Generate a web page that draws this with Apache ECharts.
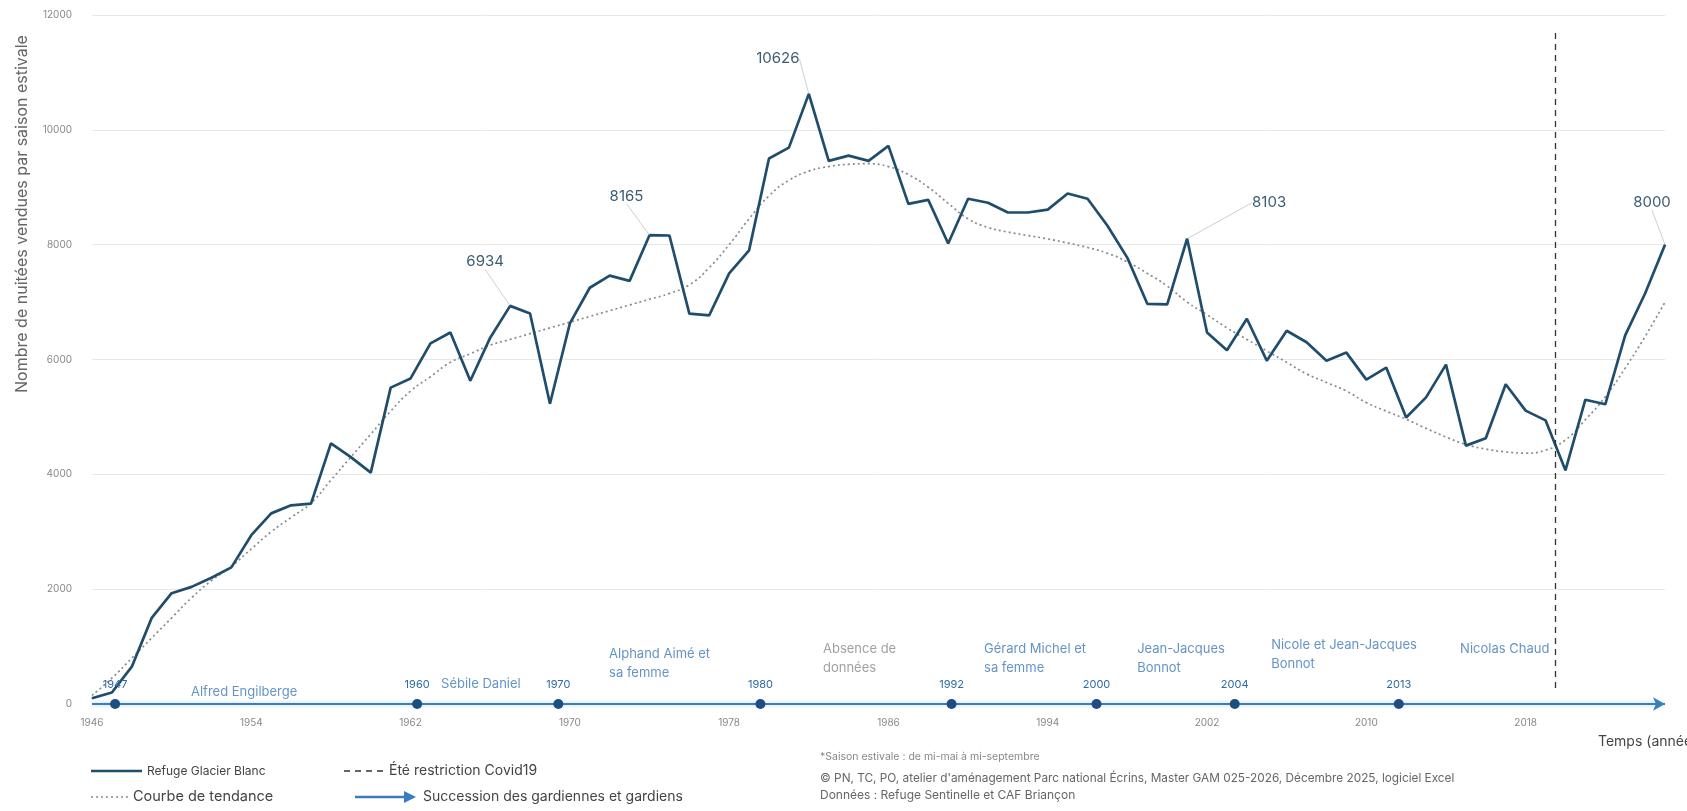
<!DOCTYPE html>
<html><head><meta charset="utf-8">
<script src="https://cdn.jsdelivr.net/npm/echarts@6/dist/echarts.min.js"></script>
<style>html,body{margin:0;padding:0;background:#fff}#c{width:1687px;height:811px}</style>
</head><body><div id="c"></div><script>
// ---------- DATA ----------
const years = [1946,1947,1948,1949,1950,1951,1952,1953,1954,1955,1956,1957,1958,1959,1960,1961,1962,1963,1964,1965,
1966,1967,1968,1969,1970,1971,1972,1973,1974,1975,1976,1977,1978,1979,1980,1981,1982,1983,1984,1985,
1986,1987,1988,1989,1990,1991,1992,1993,1994,1995,1996,1997,1998,1999,2000,2001,2002,2003,2004,2005,
2006,2007,2008,2009,2010,2011,2012,2013,2014,2015,2016,2017,2018,2019,2020,2021,2022,2023,2024,2025];
const nuitees = [100,200,650,1500,1930,2040,2200,2380,2940,3320,3460,3490,4540,4300,4030,5510,5670,6280,6470,5630,
6380,6934,6800,5230,6630,7250,7460,7370,8165,8160,6800,6770,7500,7900,9500,9690,10626,9460,9550,9460,
9720,8710,8780,8020,8800,8730,8560,8560,8610,8890,8800,8330,7770,6970,6960,8103,6470,6160,6710,5980,
6500,6300,5980,6120,5650,5860,4990,5340,5910,4500,4630,5570,5110,4940,4070,5300,5220,6420,7150,8000];
const tendance = [150,450,800,1150,1500,1850,2150,2400,2700,3000,3250,3500,3900,4300,4700,5100,5450,5700,5950,6100,
6250,6350,6450,6550,6650,6750,6850,6950,7050,7150,7300,7600,8000,8450,8850,9120,9280,9360,9400,9410,
9360,9220,9000,8720,8450,8300,8220,8160,8100,8030,7950,7850,7700,7500,7280,7000,6780,6550,6350,6150,
5950,5750,5600,5450,5250,5100,4960,4800,4650,4520,4440,4390,4370,4420,4600,4950,5350,5850,6400,7000];
const axisYearLabels = [1946,1954,1962,1970,1978,1986,1994,2002,2010,2018];
const yTicks = [0,2000,4000,6000,8000,10000,12000];
const labelledYears = [1967,1974,1982,2001,2025];
const covidYear = 2019.5;
const gardienYears = ['1947','1960','1970','1980','1992','2000','2004','2013'];
const gardienNames = ['Alfred Engilberge','Sébile Daniel','Alphand Aimé et\nsa femme','Absence de\ndonnées',
  'Gérard Michel et\nsa femme','Jean-Jacques\nBonnot','Nicole et Jean-Jacques\nBonnot','Nicolas Chaud'];

// ---------- LAYOUT (hand-placed positions of the timeline, in axis units) ----------
const timelineDotAt = [1947.16,1962.33,1969.42,1979.57,1989.17,1996.45,2003.39,2011.63];
const timelineNameAt = [[1950.97,209],[1963.53,348],[1971.97,696],[1982.71,783],[1990.8,783],[1998.49,783],[2005.22,852],[2014.71,957]];
const covidSpan = [280, 11750];
const labelOffsets = {1967:[-25,-31],1974:[-23,-26],1982:[-31,-22],2001:[82,-23],2025:[-13,-29]};

const FONT = 'Inter, "Noto Sans", sans-serif';
const mainColor = '#1f4d6b';
const tlColor = '#3a7cc0';

const mainData = years.map((y,i)=> labelledYears.includes(y)
  ? {value:[y,nuitees[i]], label:{show:true}} : {value:[y,nuitees[i]]});
const trendData = years.map((y,i)=>[y,tendance[i]]);

const chart = echarts.init(document.getElementById('c'), null, {renderer:'canvas'});
chart.setOption({
  animation:false,
  backgroundColor:'#ffffff',
  grid:{left:92,right:22,top:15,bottom:107,containLabel:false},
  xAxis:{type:'value',min:years[0],max:years[years.length-1],
    axisLine:{show:false},axisTick:{show:false},splitLine:{show:false},
    axisLabel:{customValues:axisYearLabels,formatter:v=>String(v),color:'#888',fontSize:10,fontFamily:FONT,margin:14}},
  yAxis:{type:'value',min:yTicks[0],max:yTicks[yTicks.length-1],interval:2000,
    axisLine:{show:false},axisTick:{show:false},
    splitLine:{lineStyle:{color:'#e8e8e8',width:1}},
    axisLabel:{formatter:v=>String(v),color:'#888',fontSize:10,fontFamily:FONT,margin:20}},
  series:[
    {name:'Courbe de tendance',type:'line',data:trendData,smooth:true,symbol:'none',z:2,
      lineStyle:{color:'#868b90',width:1.7,type:[2,3]}},
    {name:'Refuge Glacier Blanc',type:'line',data:mainData,symbol:'circle',symbolSize:1,showAllSymbol:true,z:3,
      itemStyle:{color:mainColor},lineStyle:{color:mainColor,width:2.7},
      label:{show:false,position:'top',distance:5,color:'#3b5c75',fontSize:15,fontFamily:FONT,
        formatter:p=>String(p.value[1])},
      labelLine:{show:true,lineStyle:{color:'#cfcfcf',width:1}},
      labelLayout:function(p){const y=years[p.dataIndex];const o=labelOffsets[y];return o?{dx:o[0],dy:o[1]}:{};},
      markLine:{silent:true,symbol:['none','none'],label:{show:false},
        lineStyle:{color:'#333',type:[6,5],width:1.3},
        data:[[{coord:[covidYear,covidSpan[0]]},{coord:[covidYear,covidSpan[1]]}]]}},
    {name:'timeline',type:'line',data:timelineDotAt.map(x=>[x,0]),z:5,
      symbol:'circle',symbolSize:10,itemStyle:{color:'#1d4f7e'},lineStyle:{width:0},
      label:{show:true,position:'top',distance:9,color:'#2f6aa6',fontSize:11,fontFamily:FONT,
        formatter:p=>gardienYears[p.dataIndex]},
      markLine:{silent:true,symbol:['none','arrow'],symbolSize:[10,12],label:{show:false},
        lineStyle:{color:tlColor,width:2.2,type:'solid',shadowColor:'rgba(120,180,235,0.6)',shadowBlur:4},
        data:[[{coord:[years[0],0]},{coord:[years[years.length-1],0]}]]}},
    {name:'noms',type:'scatter',data:timelineNameAt.map((p,i)=>({value:p,
        label:i===3?{color:'#8a8a8a'}:{}})),symbolSize:0,z:6,
      label:{show:true,position:'right',distance:0,align:'left',color:'#3d78b6',fontSize:13,lineHeight:19,fontFamily:FONT,
        formatter:p=>gardienNames[p.dataIndex]}}
  ],
  graphic:[
    {type:'text',x:22,y:214,rotation:Math.PI/2,style:{text:'Nombre de nuitées vendues par saison estivale',
      align:'center',verticalAlign:'middle',fill:'#666',font:'16px '+FONT}},
    {type:'text',x:1598,y:742,style:{text:'Temps (années)',align:'left',verticalAlign:'middle',fill:'#444',font:'14px '+FONT}},
    {type:'line',shape:{x1:91,y1:771,x2:142,y2:771},style:{stroke:mainColor,lineWidth:2.6}},
    {type:'text',x:147,y:771,style:{text:'Refuge Glacier Blanc',verticalAlign:'middle',fill:'#444',font:'12px '+FONT}},
    {type:'line',shape:{x1:91,y1:797,x2:129,y2:797},style:{stroke:'#868b90',lineWidth:1.7,lineDash:[2,3]}},
    {type:'text',x:133,y:797,style:{text:'Courbe de tendance',verticalAlign:'middle',fill:'#444',font:'14.5px '+FONT}},
    {type:'line',shape:{x1:344,y1:771,x2:384,y2:771},style:{stroke:'#333',lineWidth:1.3,lineDash:[6,5]}},
    {type:'text',x:389,y:771,style:{text:'Été restriction Covid19',verticalAlign:'middle',fill:'#444',font:'14px '+FONT}},
    {type:'line',shape:{x1:355,y1:797,x2:407,y2:797},style:{stroke:tlColor,lineWidth:2.5}},
    {type:'polygon',shape:{points:[[404,791],[416,797],[404,803]]},style:{fill:tlColor}},
    {type:'text',x:423,y:797,style:{text:'Succession des gardiennes et gardiens',verticalAlign:'middle',fill:'#444',font:'14px '+FONT}},
    {type:'text',x:820,y:757,style:{text:'*Saison estivale : de mi-mai à mi-septembre',verticalAlign:'middle',fill:'#888',font:'10.5px '+FONT}},
    {type:'text',x:820,y:778,style:{text:"© PN, TC, PO, atelier d'aménagement Parc national Écrins, Master GAM 025-2026, Décembre 2025, logiciel Excel",verticalAlign:'middle',fill:'#666',font:'11.8px '+FONT}},
    {type:'text',x:820,y:795,style:{text:'Données : Refuge Sentinelle et CAF Briançon',verticalAlign:'middle',fill:'#666',font:'12px '+FONT}}
  ]
});
</script></body></html>
